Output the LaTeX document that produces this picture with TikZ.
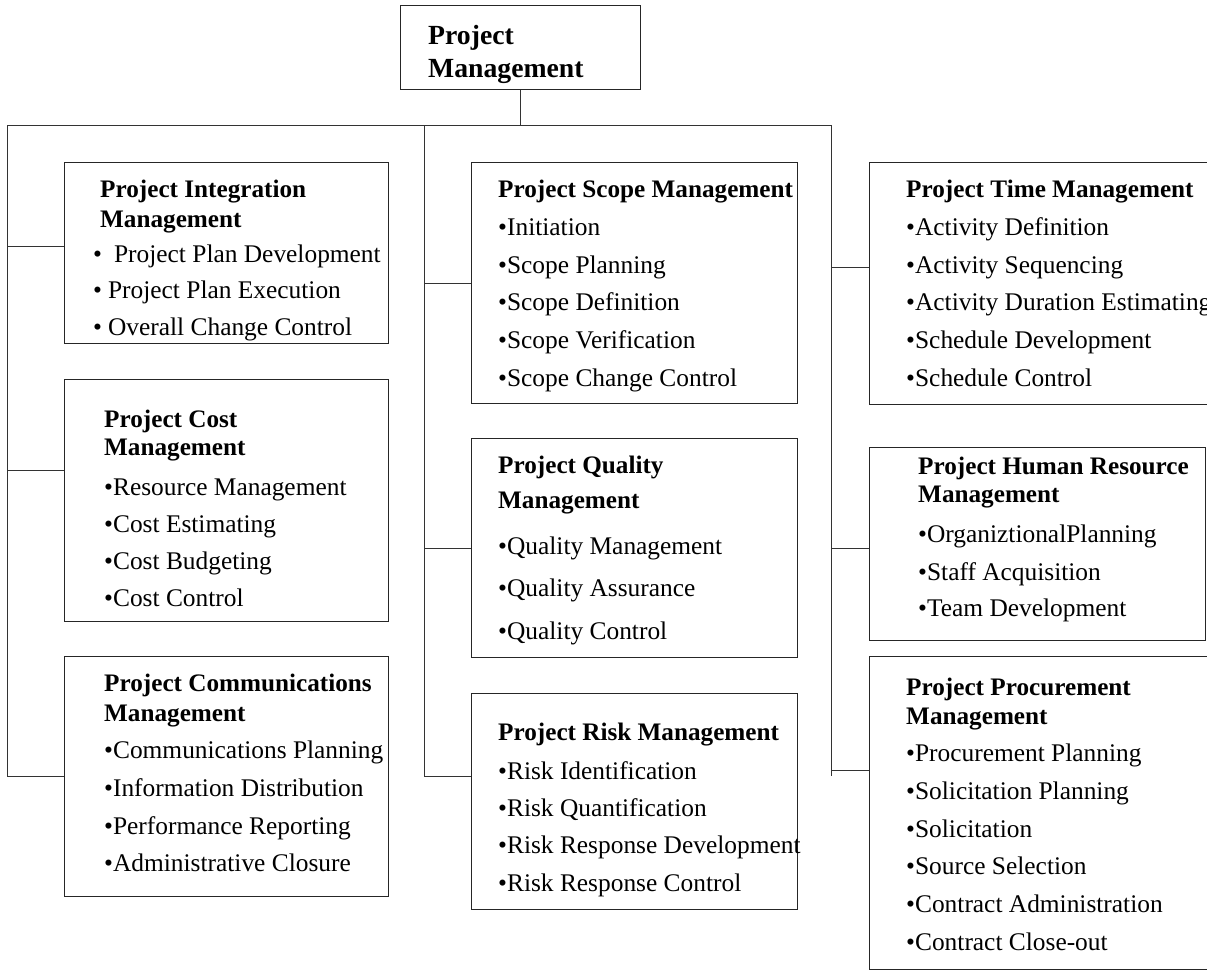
\documentclass[tikz,border=0pt]{standalone}
\usepackage{fontspec}
\setmainfont{Liberation Serif}
\begin{document}
\begin{tikzpicture}[x=1pt,y=-1pt,
  box/.style={draw=black!85, line width=1.3pt, anchor=north west, inner sep=0pt},
  wire/.style={draw=black!80, line width=1pt},
  txt/.style={anchor=base west, inner sep=0pt, font=\fontsize{25.4}{30}\selectfont},
  ttl/.style={anchor=base west, inner sep=0pt, font=\fontsize{25.2}{30}\selectfont\bfseries},
  big/.style={anchor=base west, inner sep=0pt, font=\fontsize{27.7}{32}\selectfont\bfseries}]
\useasboundingbox (0,0) rectangle (1207,970);
\clip (0,0) rectangle (1207,970);
\fill[white] (0,0) rectangle (1207,970);
% boxes
\node[box, minimum width=240pt, minimum height=84pt] (pm) at (400,5) {};
\node[box, minimum width=324pt, minimum height=181pt] (int) at (64,162) {};
\node[box, minimum width=324pt, minimum height=242pt] (cost) at (64,379) {};
\node[box, minimum width=324pt, minimum height=240pt] (comm) at (64,656) {};
\node[box, minimum width=326pt, minimum height=241pt] (scope) at (471,162) {};
\node[box, minimum width=326pt, minimum height=219pt] (qual) at (471,438) {};
\node[box, minimum width=326pt, minimum height=216pt] (risk) at (471,693) {};
\node[box, minimum width=350pt, minimum height=242pt] (time) at (869,162) {};
\node[box, minimum width=336pt, minimum height=193pt] (hr) at (869,447) {};
\node[box, minimum width=350pt, minimum height=313pt] (proc) at (869,656) {};
% connectors
\coordinate (hl) at (7,125);
\coordinate (hm) at (424,125);
\coordinate (hr0) at (831,125);
\coordinate (vl) at (7,776);
\coordinate (vm) at (424,776);
\coordinate (vr) at (831,776);
\draw[wire] (pm.south) -- (pm.south |- hl);
\draw[wire] (vl) -- (hl) -- (hr0) -- (vr);
\draw[wire] (hm) -- (vm);
\draw[wire] (7,246) -- (7,246 -| int.west);
\draw[wire] (7,470) -- (7,470 -| cost.west);
\draw[wire] (vl) -- (vl -| comm.west);
\draw[wire] (424,283) -- (424,283 -| scope.west);
\draw[wire] (424,548) -- (424,548 -| qual.west);
\draw[wire] (vm) -- (vm -| risk.west);
\draw[wire] (831,267) -- (831,267 -| time.west);
\draw[wire] (831,548) -- (831,548 -| hr.west);
\draw[wire] (831,770) -- (831,770 -| proc.west);
% top
\node[big] (pm1) at (428,44) {Project};
\node[big] (pm2) at (428,77) {Management};
% integration
\node[ttl] (i0) at (100,197) {Project Integration};
\node[ttl] (i1) at (100,227) {Management};
\node[txt] (i2) at (93,262) {•\hspace{12pt}Project Plan Development};
\node[txt] (i3) at (93,298) {•\hspace{6pt}Project Plan Execution};
\node[txt] (i4) at (93,335) {•\hspace{6pt}Overall Change Control};
% cost
\node[ttl] (c0) at (104,427) {Project Cost};
\node[ttl] (c1) at (104,455) {Management};
\node[txt] (c2) at (104,495) {•Resource Management};
\node[txt] (c3) at (104,532) {•Cost Estimating};
\node[txt] (c4) at (104,569) {•Cost Budgeting};
\node[txt] (c5) at (104,606) {•Cost Control};
% communications
\node[ttl] (m0) at (104,691) {Project Communications};
\node[ttl] (m1) at (104,721) {Management};
\node[txt] (m2) at (104,758) {•Communications Planning};
\node[txt] (m3) at (104,796) {•Information Distribution};
\node[txt] (m4) at (104,834) {•Performance Reporting};
\node[txt] (m5) at (104,871) {•Administrative Closure};
% scope
\node[ttl] (s0) at (498,197) {Project Scope Management};
\node[txt] (s1) at (498,235) {•Initiation};
\node[txt] (s2) at (498,273) {•Scope Planning};
\node[txt] (s3) at (498,310) {•Scope Definition};
\node[txt] (s4) at (498,348) {•Scope Verification};
\node[txt] (s5) at (498,386) {•Scope Change Control};
% quality
\node[ttl] (q0) at (498,473) {Project Quality};
\node[ttl] (q1) at (498,508) {Management};
\node[txt] (q2) at (498,554) {•Quality Management};
\node[txt] (q3) at (498,596) {•Quality Assurance};
\node[txt] (q4) at (498,639) {•Quality Control};
% risk
\node[ttl] (r0) at (498,740) {Project Risk Management};
\node[txt] (r1) at (498,779) {•Risk Identification};
\node[txt] (r2) at (498,816) {•Risk Quantification};
\node[txt] (r3) at (498,853) {•Risk Response Development};
\node[txt] (r4) at (498,891) {•Risk Response Control};
% time
\node[ttl] (t0) at (906,197) {Project Time Management};
\node[txt] (t1) at (906,235) {•Activity Definition};
\node[txt] (t2) at (906,273) {•Activity Sequencing};
\node[txt] (t3) at (906,310) {•Activity Duration Estimating};
\node[txt] (t4) at (906,348) {•Schedule Development};
\node[txt] (t5) at (906,386) {•Schedule Control};
% human resource
\node[ttl] (h0) at (918,474) {Project Human Resource};
\node[ttl] (h1) at (918,502) {Management};
\node[txt] (h2) at (918,542) {•OrganiztionalPlanning};
\node[txt] (h3) at (918,580) {•Staff Acquisition};
\node[txt] (h4) at (918,616) {•Team Development};
% procurement
\node[ttl] (p0) at (906,695) {Project Procurement};
\node[ttl] (p1) at (906,724) {Management};
\node[txt] (p2) at (906,761) {•Procurement Planning};
\node[txt] (p3) at (906,799) {•Solicitation Planning};
\node[txt] (p4) at (906,837) {•Solicitation};
\node[txt] (p5) at (906,874) {•Source Selection};
\node[txt] (p6) at (906,912) {•Contract Administration};
\node[txt] (p7) at (906,950) {•Contract Close-out};
\end{tikzpicture}
\end{document}
